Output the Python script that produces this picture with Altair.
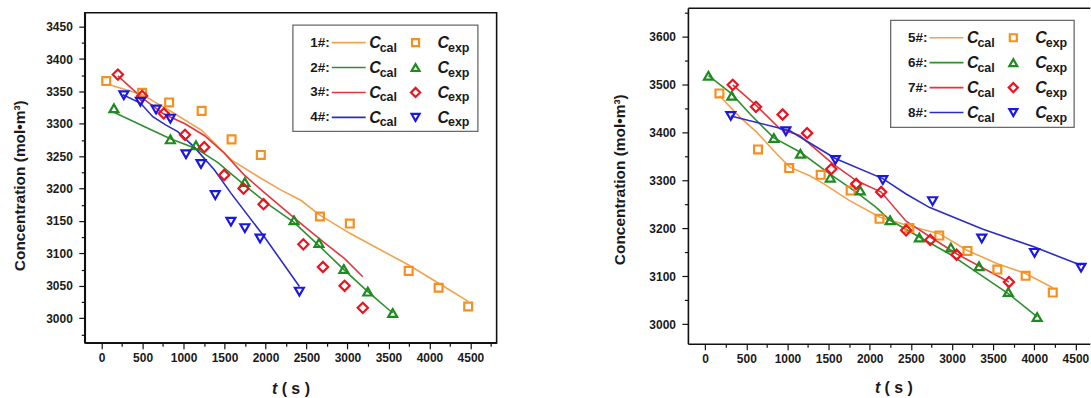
import altair as alt
import pandas as pd

# ---------------- data ----------------
# Left panel: series 1#..4#
cal1_t = [78, 495, 824, 1221, 1586, 1943, 2186, 2430, 2664, 3029, 3747, 4112, 4473]
cal1_c = [3361, 3345, 3321, 3290, 3244, 3216, 3198, 3182, 3159, 3131, 3082, 3054, 3026]
exp1_t = [57, 495, 824, 1221, 1586, 1943, 2664, 3029, 3747, 4112, 4473]
exp1_c = [3366, 3348, 3333, 3320, 3276, 3252, 3157, 3146, 3073, 3047, 3018]

cal2_t = [151, 500, 839, 1152, 1420, 1748, 2030, 2348, 2652, 2956, 3248, 3552]
cal2_c = [3318, 3297, 3277, 3262, 3240, 3205, 3176, 3148, 3112, 3075, 3041, 3008]
exp2_t = [151, 839, 1152, 1748, 2348, 2652, 2956, 3248, 3552]
exp2_c = [3324, 3276, 3267, 3210, 3151, 3116, 3076, 3041, 3008]

cal3_t = [199, 495, 759, 1018, 1253, 1496, 1732, 1976, 2462, 2701, 2965, 3187]
cal3_c = [3374, 3340, 3315, 3300, 3282, 3255, 3222, 3195, 3143, 3118, 3092, 3064]
exp3_t = [199, 495, 759, 1018, 1253, 1496, 1732, 1976, 2462, 2701, 2965, 3187]
exp3_c = [3376, 3343, 3316, 3283, 3264, 3221, 3200, 3176, 3114, 3079, 3050, 3016]

cal4_t = [260, 474, 625, 787, 929, 1131, 1375, 1578, 1983, 2414]
cal4_c = [3345, 3332, 3311, 3298, 3288, 3264, 3229, 3193, 3126, 3049]
exp4_t = [272, 474, 665, 839, 1030, 1213, 1387, 1578, 1748, 1934, 2413]
exp4_c = [3344, 3334, 3322, 3308, 3253, 3238, 3190, 3149, 3139, 3123, 3041]

# Right panel: series 5#..8#
cal5_t = [173, 424, 626, 868, 1029, 1271, 1433, 1755, 2119, 2482, 2845, 3188, 3551, 3895, 4225]
cal5_c = [3477, 3432, 3401, 3356, 3328, 3310, 3294, 3258, 3224, 3205, 3189, 3154, 3126, 3106, 3076]
exp5_t = [173, 642, 1021, 1404, 1768, 2119, 2482, 2845, 3188, 3551, 3895, 4225]
exp5_c = [3482, 3365, 3326, 3312, 3279, 3220, 3201, 3185, 3153, 3114, 3101, 3066]

cal6_t = [40, 323, 545, 835, 1158, 1513, 1836, 2078, 2248, 2603, 2986, 3329, 3684, 4035]
cal6_c = [3519, 3481, 3439, 3389, 3359, 3314, 3276, 3244, 3217, 3182, 3145, 3105, 3064, 3015]
exp6_t = [40, 323, 835, 1158, 1521, 1885, 2248, 2603, 2986, 3329, 3684, 4035]
exp6_c = [3519, 3477, 3389, 3356, 3306, 3279, 3217, 3181, 3160, 3121, 3067, 3015]

cal7_t = [335, 626, 908, 1150, 1553, 1836, 2139, 2442, 2736, 3055, 3692]
cal7_c = [3500, 3456, 3408, 3394, 3335, 3300, 3276, 3215, 3182, 3147, 3088]
exp7_t = [335, 617, 941, 1239, 1533, 1836, 2139, 2442, 2736, 3055, 3692]
exp7_c = [3500, 3454, 3438, 3399, 3324, 3293, 3276, 3196, 3176, 3145, 3088]

cal8_t = [311, 1029, 1582, 2159, 2442, 2724, 3369, 4003, 4568]
cal8_c = [3435, 3404, 3346, 3304, 3272, 3244, 3199, 3161, 3123]
exp8_t = [311, 981, 1582, 2159, 2764, 3362, 4003, 4568]
exp8_c = [3435, 3403, 3343, 3301, 3257, 3179, 3149, 3118]

left_names = ["1#:", "2#:", "3#:", "4#:"]
right_names = ["5#:", "6#:", "7#:", "8#:"]

x_ticks = [v for v in range(0, 4751, 250)]
y_ticks_left = [v for v in range(2975, 3451, 25)]
y_ticks_right = [v for v in range(3000, 3651, 50)]

# ---------------- style ----------------
FONT = "Liberation Sans"
LINE_COLORS = ["#F3A24C", "#2F8F2F", "#E0383E", "#2C2CC4"]
MARK_COLORS = ["#F59020", "#1F8A1F", "#EA1420", "#1818E0"]
SHAPES = ["square", "triangle-up", "diamond", "triangle-down"]
SIZES = [62, 80, 105, 80]

one = pd.DataFrame({"k": [0]})


def axis_x(major):
    return alt.Axis(
        values=x_ticks, format="d",
        labelExpr=f"datum.value % {major} === 0 ? datum.label : ''",
        tickSize={"condition": {"test": f"datum.value % {major} === 0", "value": 6}, "value": 3.5},
        title=None, grid=False, labelFont=FONT, labelFontSize=12, labelFontWeight="bold",
        labelColor="#1a1a1a", labelPadding=4, tickColor="#111", tickWidth=1.2,
        domainColor="#111", domainWidth=1.6, labelFlush=False, labelOverlap=False,
    )


def axis_y(values, major, title_y, title_pad):
    return alt.Axis(
        values=values, format="d",
        labelExpr=f"datum.value % {major} === 0 ? datum.label : ''",
        tickSize={"condition": {"test": f"datum.value % {major} === 0", "value": 6}, "value": 3.5},
        title="Concentration (mol•m³)", titleFont=FONT, titleFontSize=15.5,
        titleFontWeight="bold", titleColor="#1a1a1a", titlePadding=title_pad, titleY=title_y,
        grid=False, labelFont=FONT, labelFontSize=12, labelFontWeight="bold",
        labelColor="#1a1a1a", labelPadding=6.5, tickColor="#111", tickWidth=1.2,
        domainColor="#111", domainWidth=1.6, labelFlush=False, labelOverlap=False,
    )


def legend_layers(names, bx, by, bw, bh):
    layers = [
        alt.Chart(one).mark_rect(fill="white", stroke="#6a6a6a", strokeWidth=1.3).encode(
            x=alt.value(bx), x2=alt.value(bx + bw), y=alt.value(by), y2=alt.value(by + bh)
        )
    ]
    for i, name in enumerate(names):
        ry = by + 17.5 + i * 25
        layers.append(alt.Chart(one).mark_text(
            text=name, align="right", baseline="middle", font=FONT, fontSize=13.5,
            fontWeight="bold", color="#1a1a1a").encode(x=alt.value(bx + 37), y=alt.value(ry)))
        layers.append(alt.Chart(one).mark_rule(color=LINE_COLORS[i], strokeWidth=1.6).encode(
            x=alt.value(bx + 39), x2=alt.value(bx + 73), y=alt.value(ry)))
        for cx, sub in [(bx + 76.5, "cal"), (bx + 145, "exp")]:
            layers.append(alt.Chart(one).mark_text(
                text="C", align="left", baseline="alphabetic", font=FONT, fontSize=16,
                fontWeight="bold", fontStyle="italic", color="#1a1a1a").encode(
                x=alt.value(cx), y=alt.value(ry + 5.5)))
            layers.append(alt.Chart(one).mark_text(
                text=sub, align="left", baseline="alphabetic", font=FONT, fontSize=12.5,
                fontWeight="bold", color="#1a1a1a").encode(
                x=alt.value(cx + 10.5), y=alt.value(ry + 9)))
        layers.append(alt.Chart(one).mark_point(
            shape=SHAPES[i], filled=False, color=MARK_COLORS[i], strokeWidth=2.2,
            size=SIZES[i] * 0.8, opacity=1).encode(x=alt.value(bx + 123), y=alt.value(ry)))
    return layers


def xtitle_layers(cx, ty):
    return [
        alt.Chart(one).mark_text(text="t", align="left", baseline="middle", font=FONT,
                                 fontSize=16, fontWeight="bold", fontStyle="italic",
                                 color="#1a1a1a").encode(x=alt.value(cx - 19), y=alt.value(ty)),
        alt.Chart(one).mark_text(text="( s )", align="left", baseline="middle", font=FONT,
                                 fontSize=16, fontWeight="bold",
                                 color="#1a1a1a").encode(x=alt.value(cx - 9.3), y=alt.value(ty)),
    ]


def panel(cals, exps, names, xdom, ydom, yvals, ymajor, w, h, title_y, title_pad,
          legend_pos, xt_center, xt_y, framed):
    xs = alt.Scale(domain=xdom, nice=False, zero=False)
    ys = alt.Scale(domain=ydom, nice=False, zero=False)
    ya = axis_y(yvals, ymajor, title_y, title_pad)
    layers = []
    for i, (tt, cc) in enumerate(cals):
        df = pd.DataFrame({"t": tt, "c": cc})
        xenc = alt.X("t:Q", scale=xs, axis=axis_x(500) if i == 0 else None)
        layers.append(alt.Chart(df).mark_line(color=LINE_COLORS[i], strokeWidth=1.6).encode(
            x=xenc, y=alt.Y("c:Q", scale=ys, axis=ya)))
    for i, (tt, cc) in enumerate(exps):
        df = pd.DataFrame({"t": tt, "c": cc})
        layers.append(alt.Chart(df).mark_point(
            shape=SHAPES[i], filled=False, color=MARK_COLORS[i], strokeWidth=2.2,
            size=SIZES[i], opacity=1).encode(
            x=alt.X("t:Q", scale=xs, axis=None), y=alt.Y("c:Q", scale=ys, axis=ya)))
    if not framed:
        df = pd.DataFrame({"t": cals[0][0], "c": cals[0][1]})
        layers.append(alt.Chart(df).mark_line(strokeOpacity=0).encode(
            x=alt.X("t:Q", scale=xs, axis=alt.Axis(orient="top", labels=False, ticks=False,
                                                   title=None, grid=False, domainColor="#111",
                                                   domainWidth=1.6)),
            y=alt.Y("c:Q", scale=ys, axis=ya)))
    layers += legend_layers(names, *legend_pos)
    layers += xtitle_layers(xt_center, xt_y)
    ch = alt.layer(*layers).resolve_axis(x="independent").properties(width=w, height=h)
    if framed:
        ch = ch.properties(view=alt.ViewBackground(stroke="#111", strokeWidth=1.6))
    else:
        ch = ch.properties(view=alt.ViewBackground(stroke="transparent"))
    return ch


left = panel(
    [(cal1_t, cal1_c), (cal2_t, cal2_c), (cal3_t, cal3_c), (cal4_t, cal4_c)],
    [(exp1_t, exp1_c), (exp2_t, exp2_c), (exp3_t, exp3_c), (exp4_t, exp4_c)],
    left_names, [-205, 4820], [2962, 3471.5], y_ticks_left, 50, 413, 331, 173, 17.8,
    (208.7, 12.5, 185.5, 106.5), 206.7, 377, True)

right = panel(
    [(cal5_t, cal5_c), (cal6_t, cal6_c), (cal7_t, cal7_c), (cal8_t, cal8_c)],
    [(exp5_t, exp5_c), (exp6_t, exp6_c), (exp7_t, exp7_c), (exp8_t, exp8_c)],
    right_names, [-210, 4675], [2959, 3661], y_ticks_right, 100, 403, 337, 172, 21,
    (203.3, 12.6, 184, 107.4), 206.5, 381, False)

# empty strip that lowers the left panel a little relative to the right one
spacer = alt.Chart(one).mark_point(opacity=0).encode(
    x=alt.value(0), y=alt.value(0)
).properties(width=413, height=3.1, view=alt.ViewBackground(stroke="transparent"))

left_col = alt.vconcat(spacer, left, spacing=0)

chart = alt.hconcat(left_col, right, spacing=114.8).properties(
    padding={"left": 12, "top": 3.2, "right": 0, "bottom": 0},
    background="white",
).configure_view(stroke=None)

chart.save("out.html", embed_options={"renderer": "svg", "actions": False})
